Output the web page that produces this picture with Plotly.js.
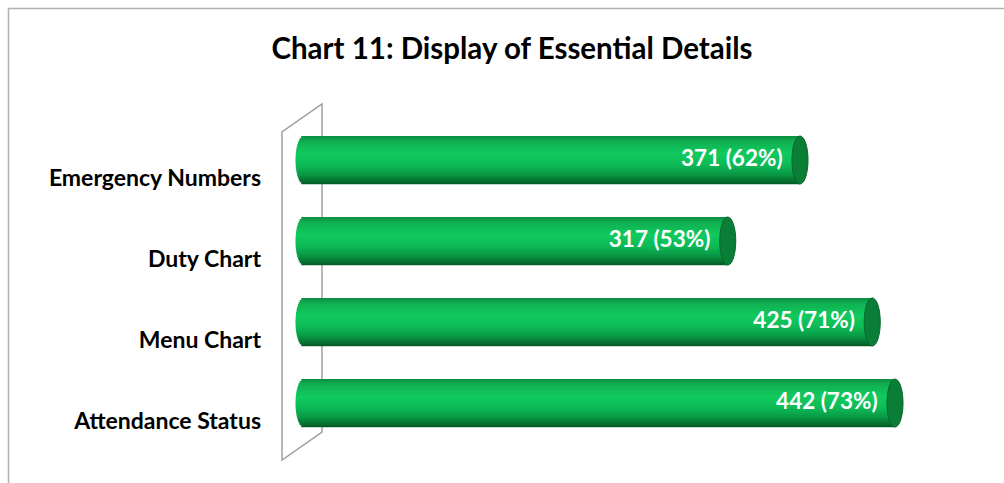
<!DOCTYPE html>
<html>
<head>
<meta charset="utf-8">
<script src="https://cdn.plot.ly/plotly-3.0.1.min.js"></script>
<style>
  html, body { margin: 0; padding: 0; background: #ffffff; }
  #chart { width: 1004px; height: 483px; }
</style>
</head>
<body>
<div id="chart"></div>
<script>
// ---- Data ----
const categories = ["Emergency Numbers", "Duty Chart", "Menu Chart", "Attendance Status"];
const counts = [371, 317, 425, 442];
const percents = [62, 53, 71, 73];
const chartTitle = "Chart 11: Display of Essential Details";

// ---- Style helpers ----
const FONT = "Lato, 'Open Sans', 'DejaVu Sans', sans-serif";
const BAR_W = 0.593;      // bar thickness in category units
const N_STRIPES = 24;     // stripes used to emulate cylinder shading
const CAP_A = 6;          // half width of the elliptical ends, in x units

const gradStops = [
  [0.00, [10, 140, 64]],
  [0.12, [16, 178, 82]],
  [0.38, [16, 202, 94]],
  [0.60, [13, 186, 87]],
  [0.80, [8, 152, 68]],
  [0.92, [6, 116, 50]],
  [1.00, [4, 88, 36]]
];
function gradColor(t) {
  for (let i = 1; i < gradStops.length; i++) {
    if (t <= gradStops[i][0]) {
      const [t0, c0] = gradStops[i - 1], [t1, c1] = gradStops[i];
      const f = (t - t0) / (t1 - t0);
      const c = c0.map((v, k) => Math.round(v + (c1[k] - v) * f));
      return `rgb(${c[0]},${c[1]},${c[2]})`;
    }
  }
  const c = gradStops[gradStops.length - 1][1];
  return `rgb(${c[0]},${c[1]},${c[2]})`;
}

const traces = [];
const sw = BAR_W / N_STRIPES;
for (let i = 0; i < N_STRIPES; i++) {
  const off = -BAR_W / 2 + i * sw;
  const u = (off + sw / 2) / (BAR_W / 2);
  const b = -CAP_A * Math.sqrt(Math.max(0, 1 - u * u));
  traces.push({
    type: "bar",
    orientation: "h",
    y: categories,
    x: counts.map(v => v - b),
    base: counts.map(() => b),
    width: sw * 1.08,
    offset: off,
    marker: { color: gradColor((i + 0.5) / N_STRIPES), line: { width: 0 } },
    hoverinfo: "skip",
    showlegend: false
  });
}

// data labels
traces.push({
  type: "scatter",
  mode: "text",
  y: categories,
  x: counts.map(v => v - 13),
  text: counts.map((v, i) => `${v} (${percents[i]}%)`),
  textposition: "middle left",
  textfont: { family: FONT, size: 22.5, color: "#ffffff", weight: "bold" },
  hoverinfo: "skip",
  showlegend: false
});

// end caps
const shapes = counts.map((v, i) => ({
  type: "circle",
  xref: "x", yref: "y",
  x0: v - CAP_A, x1: v + CAP_A,
  y0: i - BAR_W / 2, y1: i + BAR_W / 2,
  fillcolor: "#0a7e37",
  line: { color: "#07672c", width: 1 },
  layer: "above"
}));

// back wall (3D floor plane)
const L = 282, R = 14, T = 100, B = 18, W = 1004, H = 483;
const pw = W - L - R, ph = H - T - B;
const px = x => (x - L) / pw;
const py = y => (H - B - y) / ph;
shapes.push({
  type: "path", xref: "paper", yref: "paper", layer: "below",
  path: `M${px(282)},${py(460)} L${px(282)},${py(132)} L${px(322)},${py(104)} L${px(322)},${py(432)} Z`,
  fillcolor: "rgba(0,0,0,0)",
  line: { color: "#a0a0a0", width: 1.5 }
});
// outer frame (top and left edges)
shapes.push({
  type: "path", xref: "paper", yref: "paper", layer: "below",
  path: `M${px(8.5)},${py(483)} L${px(8.5)},${py(8.5)} L${px(1004)},${py(8.5)}`,
  line: { color: "#b0b0b0", width: 1.5 }
});

const layout = {
  width: W, height: H,
  margin: { l: L, r: R, t: T, b: B, pad: 0 },
  paper_bgcolor: "#ffffff",
  plot_bgcolor: "rgba(0,0,0,0)",
  barmode: "overlay",
  title: {
    text: "<b>" + chartTitle + "</b>",
    font: { family: FONT, size: 29.5, color: "#000000" },
    x: 512 / W, xref: "container", xanchor: "center",
    y: 1 - 49 / H, yref: "container", yanchor: "middle"
  },
  xaxis: {
    range: [-16.1, 513],
    showgrid: false, zeroline: false, showline: false,
    showticklabels: false, ticks: "", fixedrange: true
  },
  yaxis: {
    type: "category",
    categoryorder: "array",
    categoryarray: categories,
    range: [3.765, -0.741],
    showgrid: false, zeroline: false, showline: false,
    ticks: "",
    ticklabelstandoff: 20,
    ticklabelshift: -18,
    tickfont: { family: FONT, size: 23, color: "#000000", weight: "bold" },
    fixedrange: true
  },
  shapes: shapes,
  showlegend: false
};

Plotly.newPlot("chart", traces, layout, { displayModeBar: false, staticPlot: true });
</script>
</body>
</html>
